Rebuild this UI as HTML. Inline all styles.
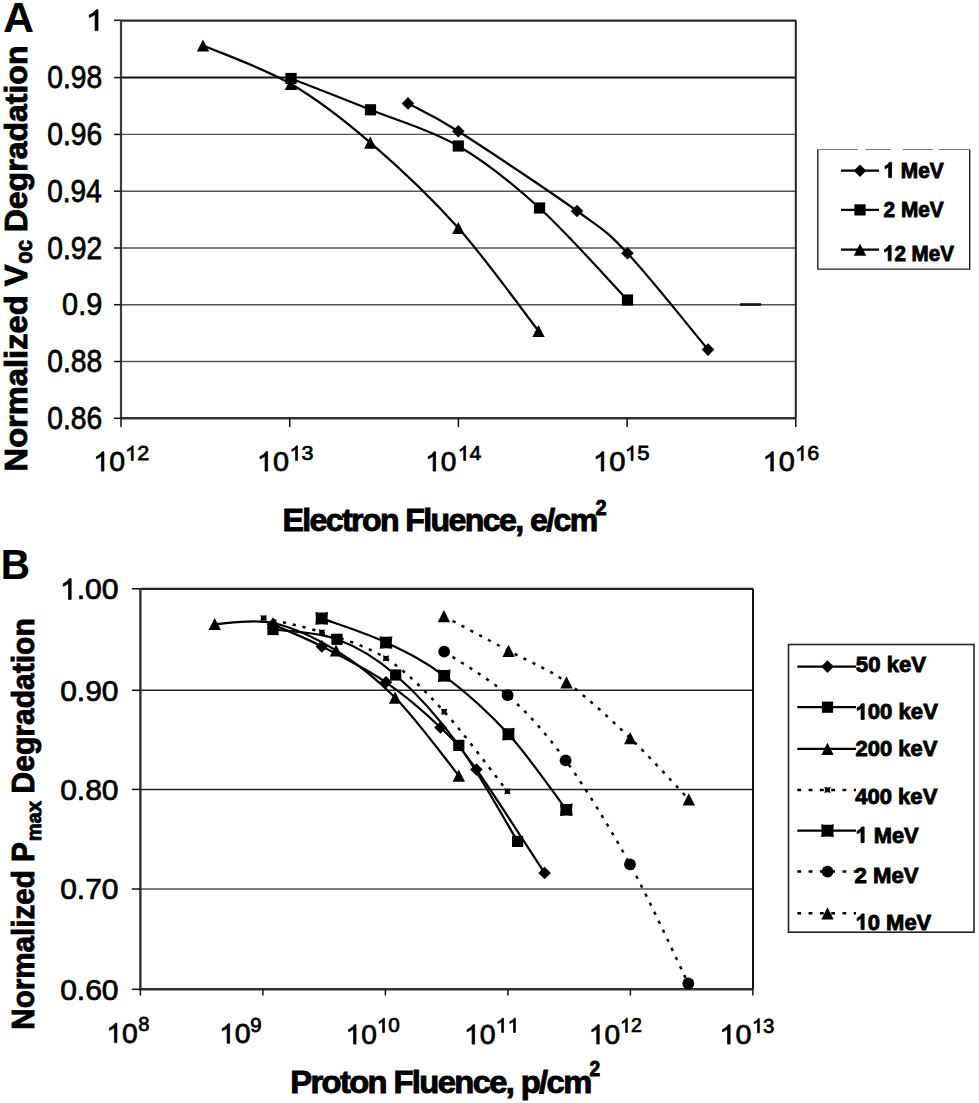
<!DOCTYPE html>
<html><head><meta charset="utf-8"><style>
html,body{margin:0;padding:0;background:#fff;}
svg{display:block;}
text{font-family:"Liberation Sans",sans-serif;fill:#000;stroke:#000;stroke-width:0.75px;}
text[font-weight=bold]{stroke-width:0.9px;}
.h{fill:transparent;stroke:transparent;}
.o{fill:#000;stroke:#000;stroke-width:0.75px;vector-effect:non-scaling-stroke;}
.ob{fill:#000;stroke:#000;stroke-width:0.9px;vector-effect:non-scaling-stroke;}
</style></head><body>
<svg width="979" height="1103" viewBox="0 0 979 1103">
<rect width="979" height="1103" fill="#fff"/>
<g>
<line x1="121.0" y1="77.6" x2="795.8" y2="77.6" stroke="#111" stroke-width="2"/>
<line x1="121.0" y1="134.4" x2="795.8" y2="134.4" stroke="#555" stroke-width="1.4"/>
<line x1="121.0" y1="191.2" x2="795.8" y2="191.2" stroke="#555" stroke-width="1.4"/>
<line x1="121.0" y1="248.0" x2="795.8" y2="248.0" stroke="#555" stroke-width="1.4"/>
<line x1="121.0" y1="304.7" x2="795.8" y2="304.7" stroke="#555" stroke-width="1.4"/>
<line x1="121.0" y1="361.5" x2="795.8" y2="361.5" stroke="#555" stroke-width="1.4"/>
<path d="M121.0,20.6 H795.8" fill="none" stroke="#2a2a2a" stroke-width="2.3"/>
<path d="M795.8,20.3 V418.3" fill="none" stroke="#222" stroke-width="2"/>
<path d="M740,304.5 H761" stroke="#111" stroke-width="2.6"/>
<path d="M121.0,20.3 V418.3" fill="none" stroke="#3a3a3a" stroke-width="2.2"/>
<path d="M121.0,418.3 H795.8" fill="none" stroke="#333" stroke-width="2.4"/>
<line x1="114" y1="20.3" x2="121.0" y2="20.3" stroke="#111" stroke-width="1.5"/>
<line x1="114" y1="77.6" x2="121.0" y2="77.6" stroke="#111" stroke-width="1.5"/>
<line x1="114" y1="134.4" x2="121.0" y2="134.4" stroke="#111" stroke-width="1.5"/>
<line x1="114" y1="191.2" x2="121.0" y2="191.2" stroke="#111" stroke-width="1.5"/>
<line x1="114" y1="248.0" x2="121.0" y2="248.0" stroke="#111" stroke-width="1.5"/>
<line x1="114" y1="304.7" x2="121.0" y2="304.7" stroke="#111" stroke-width="1.5"/>
<line x1="114" y1="361.5" x2="121.0" y2="361.5" stroke="#111" stroke-width="1.5"/>
<line x1="114" y1="418.3" x2="121.0" y2="418.3" stroke="#111" stroke-width="1.5"/>
<line x1="121.0" y1="418.3" x2="121.0" y2="427" stroke="#111" stroke-width="1.5"/>
<line x1="289.7" y1="418.3" x2="289.7" y2="427" stroke="#111" stroke-width="1.5"/>
<line x1="458.4" y1="418.3" x2="458.4" y2="427" stroke="#111" stroke-width="1.5"/>
<line x1="627.1" y1="418.3" x2="627.1" y2="427" stroke="#111" stroke-width="1.5"/>
<line x1="795.8" y1="418.3" x2="795.8" y2="427" stroke="#111" stroke-width="1.5"/>
<path d="M408,103.4 C416.38,108.05 430.13,113.37 458.3,131.3 C486.47,149.23 548.8,190.67 577,211 C605.2,231.33 605.67,230.2 627.5,253.3 C649.33,276.4 694.58,333.55 708,349.6" fill="none" stroke="#000" stroke-width="2.2"/>
<path d="M291,78.5 C304.25,83.72 342.62,98.55 370.5,109.8 C398.38,121.05 430.13,129.63 458.3,146 C486.47,162.37 511.3,182.33 539.5,208 C567.7,233.67 612.83,284.67 627.5,300" fill="none" stroke="#000" stroke-width="2.2"/>
<path d="M203,45.5 C217.67,51.92 263.12,67.82 291,84 C318.88,100.18 342.42,118.6 370.3,142.6 C398.18,166.6 430.27,196.6 458.3,228 C486.33,259.4 525.13,313.83 538.5,331" fill="none" stroke="#000" stroke-width="2.2"/>
<path d="M408,97.1 L414.3,103.4 L408,109.7 L401.7,103.4 Z"/>
<path d="M458.3,125 L464.6,131.3 L458.3,137.6 L452,131.3 Z"/>
<path d="M577,204.7 L583.3,211 L577,217.3 L570.7,211 Z"/>
<path d="M627.5,247 L633.8,253.3 L627.5,259.6 L621.2,253.3 Z"/>
<path d="M708,343.3 L714.3,349.6 L708,355.9 L701.7,349.6 Z"/>
<rect x="285.4" y="72.9" width="11.2" height="11.2"/>
<rect x="364.9" y="104.2" width="11.2" height="11.2"/>
<rect x="452.7" y="140.4" width="11.2" height="11.2"/>
<rect x="533.9" y="202.4" width="11.2" height="11.2"/>
<rect x="621.9" y="294.4" width="11.2" height="11.2"/>
<path d="M203,39.4 L209.2,51.6 L196.8,51.6 Z"/>
<path d="M291,77.9 L297.2,90.1 L284.8,90.1 Z"/>
<path d="M370.3,136.5 L376.5,148.7 L364.1,148.7 Z"/>
<path d="M458.3,221.9 L464.5,234.1 L452.1,234.1 Z"/>
<path d="M538.5,324.9 L544.7,337.1 L532.3,337.1 Z"/>
<path d="M817.8,149.5 V269.1 H969.7 V149.5" fill="none" stroke="#222" stroke-width="1.4"/>
<path d="M817.8,149.5 H969.7" fill="none" stroke="#777" stroke-width="1.2" stroke-dasharray="40 8 25 12 30 6 40 10"/>
<line x1="841" y1="170.7" x2="879" y2="170.7" stroke="#000" stroke-width="2.2"/>
<path d="M860,164.4 L866.3,170.7 L860,177 L853.7,170.7 Z"/>
<line x1="841" y1="209.9" x2="879" y2="209.9" stroke="#000" stroke-width="2.2"/>
<rect x="854.4" y="204.3" width="11.2" height="11.2"/>
<line x1="841" y1="249.6" x2="879" y2="249.6" stroke="#000" stroke-width="2.2"/>
<path d="M860,243.5 L866.2,255.7 L853.8,255.7 Z"/>
<line x1="140.4" y1="690.3" x2="753.0" y2="690.3" stroke="#222" stroke-width="1.5"/>
<line x1="140.4" y1="789.4" x2="753.0" y2="789.4" stroke="#222" stroke-width="1.5"/>
<line x1="140.4" y1="889.0" x2="753.0" y2="889.0" stroke="#555" stroke-width="1.5"/>
<path d="M140.4,588.8 H753.0" fill="none" stroke="#222" stroke-width="2.2"/>
<path d="M753.0,588.8 V989.3" fill="none" stroke="#111" stroke-width="2"/>
<path d="M140.4,588.8 V989.3 H753.0" fill="none" stroke="#333" stroke-width="2.4"/>
<line x1="131.8" y1="588.8" x2="140.4" y2="588.8" stroke="#111" stroke-width="1.5"/>
<line x1="131.8" y1="690.3" x2="140.4" y2="690.3" stroke="#111" stroke-width="1.5"/>
<line x1="131.8" y1="789.4" x2="140.4" y2="789.4" stroke="#111" stroke-width="1.5"/>
<line x1="131.8" y1="889.0" x2="140.4" y2="889.0" stroke="#111" stroke-width="1.5"/>
<line x1="131.8" y1="989.3" x2="140.4" y2="989.3" stroke="#111" stroke-width="1.5"/>
<line x1="140.4" y1="989.3" x2="140.4" y2="995.5" stroke="#111" stroke-width="1.5"/>
<line x1="262.9" y1="989.3" x2="262.9" y2="995.5" stroke="#111" stroke-width="1.5"/>
<line x1="385.4" y1="989.3" x2="385.4" y2="995.5" stroke="#111" stroke-width="1.5"/>
<line x1="507.9" y1="989.3" x2="507.9" y2="995.5" stroke="#111" stroke-width="1.5"/>
<line x1="630.4" y1="989.3" x2="630.4" y2="995.5" stroke="#111" stroke-width="1.5"/>
<line x1="752.9" y1="989.3" x2="752.9" y2="995.5" stroke="#111" stroke-width="1.5"/>
<path d="M273,624.5 C281.13,628.15 302.97,636.77 321.8,646.4 C340.63,656.03 366.22,668.78 386,682.3 C405.78,695.82 425.43,712.97 440.5,727.5 C455.57,742.03 459.05,745.25 476.4,769.5 C493.75,793.75 533.23,855.75 544.6,873" fill="none" stroke="#000" stroke-width="2.2"/>
<path d="M273,629.5 C283.67,631.13 316.55,631.72 337,639.3 C357.45,646.88 375.4,657.32 395.7,675 C416,692.68 438.48,717.67 458.8,745.4 C479.12,773.13 507.8,825.4 517.6,841.4" fill="none" stroke="#000" stroke-width="2.2"/>
<path d="M214.7,624 C224.42,623.83 252.78,618.58 273,623 C293.22,627.42 315.65,638.07 336,650.5 C356.35,662.93 374.63,676.75 395.1,697.6 C415.57,718.45 448.18,762.6 458.8,775.6" fill="none" stroke="#000" stroke-width="2.2"/>
<path d="M263.5,618 C273.22,620.38 301.38,625.57 321.8,632.3 C342.22,639.03 365.6,645.17 386,658.4 C406.4,671.63 423.97,689.55 444.2,711.7 C464.43,733.85 496.87,778.03 507.4,791.3" fill="none" stroke="#000" stroke-width="2.5" stroke-dasharray="3.2 6.8"/>
<path d="M321.7,618.4 C332.42,622.42 365.58,632.93 386,642.5 C406.42,652.07 423.8,660.53 444.2,675.8 C464.6,691.07 488.05,711.78 508.4,734.1 C528.75,756.42 556.65,797.1 566.3,809.7" fill="none" stroke="#000" stroke-width="2.2"/>
<path d="M444.2,651.6 C454.77,658.87 487.37,677.08 507.6,695.2 C527.83,713.32 545.2,732.12 565.6,760.3 C586,788.48 609.55,827.1 630,864.3 C650.45,901.5 678.58,963.63 688.3,983.5" fill="none" stroke="#000" stroke-width="2.5" stroke-dasharray="3.2 6.8"/>
<path d="M443.9,616.2 C454.68,621.97 488.17,639.78 508.6,650.8 C529.03,661.82 546.23,667.75 566.5,682.3 C586.77,696.85 609.82,718.6 630.2,738.1 C650.58,757.6 679.03,789.1 688.8,799.3" fill="none" stroke="#000" stroke-width="2.5" stroke-dasharray="3.2 6.8"/>
<path d="M273,618.2 L279.3,624.5 L273,630.8 L266.7,624.5 Z"/>
<path d="M321.8,640.1 L328.1,646.4 L321.8,652.7 L315.5,646.4 Z"/>
<path d="M386,676 L392.3,682.3 L386,688.6 L379.7,682.3 Z"/>
<path d="M440.5,721.2 L446.8,727.5 L440.5,733.8 L434.2,727.5 Z"/>
<path d="M476.4,763.2 L482.7,769.5 L476.4,775.8 L470.1,769.5 Z"/>
<path d="M544.6,866.7 L550.9,873 L544.6,879.3 L538.3,873 Z"/>
<rect x="267.4" y="623.9" width="11.2" height="11.2"/>
<rect x="331.4" y="633.7" width="11.2" height="11.2"/>
<rect x="390.1" y="669.4" width="11.2" height="11.2"/>
<rect x="453.2" y="739.8" width="11.2" height="11.2"/>
<rect x="512" y="835.8" width="11.2" height="11.2"/>
<path d="M214.7,617.9 L220.9,630.1 L208.5,630.1 Z"/>
<path d="M273,616.9 L279.2,629.1 L266.8,629.1 Z"/>
<path d="M336,644.4 L342.2,656.6 L329.8,656.6 Z"/>
<path d="M395.1,691.5 L401.3,703.7 L388.9,703.7 Z"/>
<path d="M458.8,769.5 L465,781.7 L452.6,781.7 Z"/>
<path d="M260.4,614.9 Q263.5,616.2 266.6,614.9 Q265.3,618 266.6,621.1 Q263.5,619.8 260.4,621.1 Q261.7,618 260.4,614.9 Z"/>
<path d="M318.7,629.2 Q321.8,630.5 324.9,629.2 Q323.6,632.3 324.9,635.4 Q321.8,634.1 318.7,635.4 Q320,632.3 318.7,629.2 Z"/>
<path d="M382.9,655.3 Q386,656.6 389.1,655.3 Q387.8,658.4 389.1,661.5 Q386,660.2 382.9,661.5 Q384.2,658.4 382.9,655.3 Z"/>
<path d="M441.1,708.6 Q444.2,709.9 447.3,708.6 Q446,711.7 447.3,714.8 Q444.2,713.5 441.1,714.8 Q442.4,711.7 441.1,708.6 Z"/>
<path d="M504.3,788.2 Q507.4,789.5 510.5,788.2 Q509.2,791.3 510.5,794.4 Q507.4,793.1 504.3,794.4 Q505.6,791.3 504.3,788.2 Z"/>
<path d="M315.4,612.1 Q321.7,613.1 328,612.1 Q327,618.4 328,624.7 Q321.7,623.7 315.4,624.7 Q316.4,618.4 315.4,612.1 Z"/>
<path d="M379.7,636.2 Q386,637.2 392.3,636.2 Q391.3,642.5 392.3,648.8 Q386,647.8 379.7,648.8 Q380.7,642.5 379.7,636.2 Z"/>
<path d="M437.9,669.5 Q444.2,670.5 450.5,669.5 Q449.5,675.8 450.5,682.1 Q444.2,681.1 437.9,682.1 Q438.9,675.8 437.9,669.5 Z"/>
<path d="M502.1,727.8 Q508.4,728.8 514.7,727.8 Q513.7,734.1 514.7,740.4 Q508.4,739.4 502.1,740.4 Q503.1,734.1 502.1,727.8 Z"/>
<path d="M560,803.4 Q566.3,804.4 572.6,803.4 Q571.6,809.7 572.6,816 Q566.3,815 560,816 Q561,809.7 560,803.4 Z"/>
<circle cx="444.2" cy="651.6" r="5.9"/>
<circle cx="507.6" cy="695.2" r="5.9"/>
<circle cx="565.6" cy="760.3" r="5.9"/>
<circle cx="630" cy="864.3" r="5.9"/>
<circle cx="688.3" cy="983.5" r="5.9"/>
<path d="M443.9,610.1 L450.1,622.3 L437.7,622.3 Z"/>
<path d="M508.6,644.7 L514.8,656.9 L502.4,656.9 Z"/>
<path d="M566.5,676.2 L572.7,688.4 L560.3,688.4 Z"/>
<path d="M630.2,732 L636.4,744.2 L624,744.2 Z"/>
<path d="M688.8,793.2 L695,805.4 L682.6,805.4 Z"/>
<rect x="788.5" y="644.5" width="185.5" height="287.7" fill="none" stroke="#222" stroke-width="1.6"/>
<line x1="797.3" y1="666.6" x2="856" y2="666.6" stroke="#000" stroke-width="2.2"/>
<path d="M827.5,660.3 L833.8,666.6 L827.5,672.9 L821.2,666.6 Z"/>
<line x1="797.3" y1="707.2" x2="856" y2="707.2" stroke="#000" stroke-width="2.2"/>
<rect x="821.9" y="701.6" width="11.2" height="11.2"/>
<line x1="797.3" y1="748.9" x2="856" y2="748.9" stroke="#000" stroke-width="2.2"/>
<path d="M827.5,742.8 L833.7,755 L821.3,755 Z"/>
<line x1="797.3" y1="789.9" x2="856" y2="789.9" stroke="#000" stroke-width="2.5" stroke-dasharray="3.8 7.5"/>
<path d="M824.4,786.8 Q827.5,788.1 830.6,786.8 Q829.3,789.9 830.6,793 Q827.5,791.7 824.4,793 Q825.7,789.9 824.4,786.8 Z"/>
<line x1="797.3" y1="830.6" x2="856" y2="830.6" stroke="#000" stroke-width="2.2"/>
<path d="M821.2,824.3 Q827.5,825.3 833.8,824.3 Q832.8,830.6 833.8,836.9 Q827.5,835.9 821.2,836.9 Q822.2,830.6 821.2,824.3 Z"/>
<line x1="797.3" y1="871.6" x2="856" y2="871.6" stroke="#000" stroke-width="2.5" stroke-dasharray="3.8 7.5"/>
<circle cx="827.5" cy="871.6" r="5.9"/>
<line x1="797.3" y1="913.3" x2="856" y2="913.3" stroke="#000" stroke-width="2.5" stroke-dasharray="3.8 7.5"/>
<path d="M827.5,907.2 L833.7,919.4 L821.3,919.4 Z"/>
</g>
<g>
<g transform="translate(3.14,31.8) scale(0.9877,1)"><text font-size="43" font-weight="bold" letter-spacing="-2.15" style="stroke-width:0.2px">A</text></g>
<g transform="translate(0.77,578.7) scale(0.9414,1)"><text font-size="43" font-weight="bold" letter-spacing="-2.15" style="stroke-width:0.2px">B</text></g>
<g transform="translate(85.73,30.6) scale(1.0978,1)"><text font-size="30"><tspan class="h">1</tspan></text><path class="o" d="M 763,0 L 583,0 L 583,1106 Q 518,1047 412,987 Q 306,927 222,897 L 222,1065 Q 373,1133 486,1231 Q 599,1328 646,1420 L 763,1420 Z" transform="translate(0,0) scale(0.01465,-0.01465)"/></g>
<g transform="translate(47.22,88.2) scale(0.8976,1)"><text font-size="31.5">0.98</text></g>
<g transform="translate(47.22,145) scale(0.8976,1)"><text font-size="31.5">0.96</text></g>
<g transform="translate(47.22,201.8) scale(0.8902,1)"><text font-size="31.5">0.94</text></g>
<g transform="translate(47.22,258.6) scale(0.8976,1)"><text font-size="31.5">0.92</text></g>
<g transform="translate(62.1,315.3) scale(0.9174,1)"><text font-size="31.5">0.9</text></g>
<g transform="translate(47.22,372.1) scale(0.8976,1)"><text font-size="31.5">0.88</text></g>
<g transform="translate(47.22,428.9) scale(0.8976,1)"><text font-size="31.5">0.86</text></g>
<g transform="translate(93.31,471.1) scale(1.0178,1)"><text font-size="28"><tspan class="h">1</tspan>0</text><path class="o" d="M 763,0 L 583,0 L 583,1106 Q 518,1047 412,987 Q 306,927 222,897 L 222,1065 Q 373,1133 486,1231 Q 599,1328 646,1420 L 763,1420 Z" transform="translate(0,0) scale(0.01367,-0.01367)"/></g>
<g transform="translate(125.16,460.4) scale(1.0281,1)"><text font-size="21"><tspan class="h">1</tspan>2</text><path class="o" d="M 763,0 L 583,0 L 583,1106 Q 518,1047 412,987 Q 306,927 222,897 L 222,1065 Q 373,1133 486,1231 Q 599,1328 646,1420 L 763,1420 Z" transform="translate(0,0) scale(0.01025,-0.01025)"/></g>
<g transform="translate(256.88,471.1) scale(1.0287,1)"><text font-size="28"><tspan class="h">1</tspan>0</text><path class="o" d="M 763,0 L 583,0 L 583,1106 Q 518,1047 412,987 Q 306,927 222,897 L 222,1065 Q 373,1133 486,1231 Q 599,1328 646,1420 L 763,1420 Z" transform="translate(0,0) scale(0.01367,-0.01367)"/></g>
<g transform="translate(289.47,460.4) scale(1.0232,1)"><text font-size="21"><tspan class="h">1</tspan>3</text><path class="o" d="M 763,0 L 583,0 L 583,1106 Q 518,1047 412,987 Q 306,927 222,897 L 222,1065 Q 373,1133 486,1231 Q 599,1328 646,1420 L 763,1420 Z" transform="translate(0,0) scale(0.01025,-0.01025)"/></g>
<g transform="translate(425.16,471.1) scale(1.0032,1)"><text font-size="28"><tspan class="h">1</tspan>0</text><path class="o" d="M 763,0 L 583,0 L 583,1106 Q 518,1047 412,987 Q 306,927 222,897 L 222,1065 Q 373,1133 486,1231 Q 599,1328 646,1420 L 763,1420 Z" transform="translate(0,0) scale(0.01367,-0.01367)"/></g>
<g transform="translate(457.7,460.4) scale(1.0117,1)"><text font-size="21"><tspan class="h">1</tspan>4</text><path class="o" d="M 763,0 L 583,0 L 583,1106 Q 518,1047 412,987 Q 306,927 222,897 L 222,1065 Q 373,1133 486,1231 Q 599,1328 646,1420 L 763,1420 Z" transform="translate(0,0) scale(0.01025,-0.01025)"/></g>
<g transform="translate(592.93,471.1) scale(1.0433,1)"><text font-size="28"><tspan class="h">1</tspan>0</text><path class="o" d="M 763,0 L 583,0 L 583,1106 Q 518,1047 412,987 Q 306,927 222,897 L 222,1065 Q 373,1133 486,1231 Q 599,1328 646,1420 L 763,1420 Z" transform="translate(0,0) scale(0.01367,-0.01367)"/></g>
<g transform="translate(624.79,460.4) scale(1.0578,1)"><text font-size="21"><tspan class="h">1</tspan>5</text><path class="o" d="M 763,0 L 583,0 L 583,1106 Q 518,1047 412,987 Q 306,927 222,897 L 222,1065 Q 373,1133 486,1231 Q 599,1328 646,1420 L 763,1420 Z" transform="translate(0,0) scale(0.01025,-0.01025)"/></g>
<g transform="translate(762.57,471.1) scale(1.0324,1)"><text font-size="28"><tspan class="h">1</tspan>0</text><path class="o" d="M 763,0 L 583,0 L 583,1106 Q 518,1047 412,987 Q 306,927 222,897 L 222,1065 Q 373,1133 486,1231 Q 599,1328 646,1420 L 763,1420 Z" transform="translate(0,0) scale(0.01367,-0.01367)"/></g>
<g transform="translate(795.16,460.4) scale(1.0281,1)"><text font-size="21"><tspan class="h">1</tspan>6</text><path class="o" d="M 763,0 L 583,0 L 583,1106 Q 518,1047 412,987 Q 306,927 222,897 L 222,1065 Q 373,1133 486,1231 Q 599,1328 646,1420 L 763,1420 Z" transform="translate(0,0) scale(0.01025,-0.01025)"/></g>
<g transform="translate(282.39,531.3) scale(1.0032,1)"><text font-size="32" font-weight="bold" letter-spacing="-1.6">Electron Fluence, e/cm</text></g>
<g transform="translate(595.38,514.5) scale(0.9302,1)"><text font-size="21.5" font-weight="bold" letter-spacing="-1.07">2</text></g>
<g transform="translate(27,471.44) rotate(-90) scale(1.0210,1)"><text font-size="32" font-weight="bold">Normalized V</text></g>
<g transform="translate(32.3,263.63) rotate(-90) scale(0.8806,1)"><text font-size="23" font-weight="bold">oc</text></g>
<g transform="translate(27,232.3) rotate(-90) scale(1.0009,1)"><text font-size="32" font-weight="bold">Degradation</text></g>
<g transform="translate(883.36,177.6) scale(0.9490,1)"><text font-size="22" font-weight="bold"><tspan class="h">1</tspan> MeV</text><path class="ob" d="M 805,0 L 524,0 L 524,1022 Q 370,883 161,816 L 161,1062 Q 271,1097 400,1194 Q 529,1292 577,1420 L 805,1420 Z" transform="translate(0,0) scale(0.01074,-0.01074)"/></g>
<g transform="translate(883.55,216.5) scale(0.9460,1)"><text font-size="22" font-weight="bold">2 MeV</text></g>
<g transform="translate(882.98,260.8) scale(0.9367,1)"><text font-size="22" font-weight="bold"><tspan class="h">1</tspan>2 MeV</text><path class="ob" d="M 805,0 L 524,0 L 524,1022 Q 370,883 161,816 L 161,1062 Q 271,1097 400,1194 Q 529,1292 577,1420 L 805,1420 Z" transform="translate(0,0) scale(0.01074,-0.01074)"/></g>
<g transform="translate(59.94,599.4) scale(1.0039,1)"><text font-size="30"><tspan class="h">1</tspan>.00</text><path class="o" d="M 763,0 L 583,0 L 583,1106 Q 518,1047 412,987 Q 306,927 222,897 L 222,1065 Q 373,1133 486,1231 Q 599,1328 646,1420 L 763,1420 Z" transform="translate(0,0) scale(0.01465,-0.01465)"/></g>
<g transform="translate(60.16,700.7) scale(0.9999,1)"><text font-size="30">0.90</text></g>
<g transform="translate(60.16,799.8) scale(0.9999,1)"><text font-size="30">0.80</text></g>
<g transform="translate(60.16,899.4) scale(0.9999,1)"><text font-size="30">0.70</text></g>
<g transform="translate(60.16,999.7) scale(0.9999,1)"><text font-size="30">0.60</text></g>
<g transform="translate(106.32,1042.6) scale(1.0142,1)"><text font-size="28"><tspan class="h">1</tspan>0</text><path class="o" d="M 763,0 L 583,0 L 583,1106 Q 518,1047 412,987 Q 306,927 222,897 L 222,1065 Q 373,1133 486,1231 Q 599,1328 646,1420 L 763,1420 Z" transform="translate(0,0) scale(0.01367,-0.01367)"/></g>
<g transform="translate(138.17,1031.2) scale(0.9869,1)"><text font-size="20.5">8</text></g>
<g transform="translate(219.01,1043.2) scale(1.0178,1)"><text font-size="28"><tspan class="h">1</tspan>0</text><path class="o" d="M 763,0 L 583,0 L 583,1106 Q 518,1047 412,987 Q 306,927 222,897 L 222,1065 Q 373,1133 486,1231 Q 599,1328 646,1420 L 763,1420 Z" transform="translate(0,0) scale(0.01367,-0.01367)"/></g>
<g transform="translate(250.14,1031.5) scale(0.9990,1)"><text font-size="20.5">9</text></g>
<g transform="translate(345.56,1044.1) scale(1.0032,1)"><text font-size="28"><tspan class="h">1</tspan>0</text><path class="o" d="M 763,0 L 583,0 L 583,1106 Q 518,1047 412,987 Q 306,927 222,897 L 222,1065 Q 373,1133 486,1231 Q 599,1328 646,1420 L 763,1420 Z" transform="translate(0,0) scale(0.01367,-0.01367)"/></g>
<g transform="translate(376.75,1032.4) scale(1.0115,1)"><text font-size="20.5"><tspan class="h">1</tspan>0</text><path class="o" d="M 763,0 L 583,0 L 583,1106 Q 518,1047 412,987 Q 306,927 222,897 L 222,1065 Q 373,1133 486,1231 Q 599,1328 646,1420 L 763,1420 Z" transform="translate(0,0) scale(0.01001,-0.01001)"/></g>
<g transform="translate(464.01,1044.1) scale(1.0178,1)"><text font-size="28"><tspan class="h">1</tspan>0</text><path class="o" d="M 763,0 L 583,0 L 583,1106 Q 518,1047 412,987 Q 306,927 222,897 L 222,1065 Q 373,1133 486,1231 Q 599,1328 646,1420 L 763,1420 Z" transform="translate(0,0) scale(0.01367,-0.01367)"/></g>
<g transform="translate(495.59,1032.4) scale(1.0407,1)"><text font-size="20.5"><tspan class="h">1</tspan><tspan class="h">1</tspan></text><path class="o" d="M 763,0 L 583,0 L 583,1106 Q 518,1047 412,987 Q 306,927 222,897 L 222,1065 Q 373,1133 486,1231 Q 599,1328 646,1420 L 763,1420 Z" transform="translate(0,0) scale(0.01001,-0.01001)"/><path class="o" d="M 763,0 L 583,0 L 583,1106 Q 518,1047 412,987 Q 306,927 222,897 L 222,1065 Q 373,1133 486,1231 Q 599,1328 646,1420 L 763,1420 Z" transform="translate(11.4,0) scale(0.01001,-0.01001)"/></g>
<g transform="translate(588.76,1044.1) scale(1.0032,1)"><text font-size="28"><tspan class="h">1</tspan>0</text><path class="o" d="M 763,0 L 583,0 L 583,1106 Q 518,1047 412,987 Q 306,927 222,897 L 222,1065 Q 373,1133 486,1231 Q 599,1328 646,1420 L 763,1420 Z" transform="translate(0,0) scale(0.01367,-0.01367)"/></g>
<g transform="translate(620.07,1032.4) scale(0.9570,1)"><text font-size="20.5"><tspan class="h">1</tspan>2</text><path class="o" d="M 763,0 L 583,0 L 583,1106 Q 518,1047 412,987 Q 306,927 222,897 L 222,1065 Q 373,1133 486,1231 Q 599,1328 646,1420 L 763,1420 Z" transform="translate(0,0) scale(0.01001,-0.01001)"/></g>
<g transform="translate(719.38,1044.1) scale(1.0287,1)"><text font-size="28"><tspan class="h">1</tspan>0</text><path class="o" d="M 763,0 L 583,0 L 583,1106 Q 518,1047 412,987 Q 306,927 222,897 L 222,1065 Q 373,1133 486,1231 Q 599,1328 646,1420 L 763,1420 Z" transform="translate(0,0) scale(0.01367,-0.01367)"/></g>
<g transform="translate(751.79,1032.8) scale(0.9924,1)"><text font-size="20.5"><tspan class="h">1</tspan>3</text><path class="o" d="M 763,0 L 583,0 L 583,1106 Q 518,1047 412,987 Q 306,927 222,897 L 222,1065 Q 373,1133 486,1231 Q 599,1328 646,1420 L 763,1420 Z" transform="translate(0,0) scale(0.01001,-0.01001)"/></g>
<g transform="translate(290.25,1093) scale(1.0574,1)"><text font-size="31" font-weight="bold" letter-spacing="-1.55">Proton Fluence, p/cm</text></g>
<g transform="translate(589.4,1076) scale(0.8930,1)"><text font-size="21.5" font-weight="bold" letter-spacing="-1.07">2</text></g>
<g transform="translate(34.1,1029.65) rotate(-90) scale(0.9700,1)"><text font-size="30.5" font-weight="bold">Normalized P</text></g>
<g transform="translate(41.3,841.36) rotate(-90) scale(0.9830,1)"><text font-size="20.5" font-weight="bold">max</text></g>
<g transform="translate(34,793.38) rotate(-90) scale(0.9848,1)"><text font-size="30.5" font-weight="bold">Degradation</text></g>
<g transform="translate(855.85,672.3) scale(0.9863,1)"><text font-size="22.5" font-weight="bold">50 keV</text></g>
<g transform="translate(855.46,719.4) scale(0.9846,1)"><text font-size="22.5" font-weight="bold"><tspan class="h">1</tspan>00 keV</text><path class="ob" d="M 805,0 L 524,0 L 524,1022 Q 370,883 161,816 L 161,1062 Q 271,1097 400,1194 Q 529,1292 577,1420 L 805,1420 Z" transform="translate(0,0) scale(0.01099,-0.01099)"/></g>
<g transform="translate(855.51,756) scale(0.9768,1)"><text font-size="22.5" font-weight="bold">200 keV</text></g>
<g transform="translate(855.2,803.5) scale(0.9805,1)"><text font-size="22.5" font-weight="bold">400 keV</text></g>
<g transform="translate(855.48,842.6) scale(0.9721,1)"><text font-size="22.5" font-weight="bold"><tspan class="h">1</tspan> MeV</text><path class="ob" d="M 805,0 L 524,0 L 524,1022 Q 370,883 161,816 L 161,1062 Q 271,1097 400,1194 Q 529,1292 577,1420 L 805,1420 Z" transform="translate(0,0) scale(0.01099,-0.01099)"/></g>
<g transform="translate(854.51,882.8) scale(0.9870,1)"><text font-size="22.5" font-weight="bold">2 MeV</text></g>
<g transform="translate(855.47,929.6) scale(0.9778,1)"><text font-size="22.5" font-weight="bold"><tspan class="h">1</tspan>0 MeV</text><path class="ob" d="M 805,0 L 524,0 L 524,1022 Q 370,883 161,816 L 161,1062 Q 271,1097 400,1194 Q 529,1292 577,1420 L 805,1420 Z" transform="translate(0,0) scale(0.01099,-0.01099)"/></g>
</g>
</svg>
</body></html>
